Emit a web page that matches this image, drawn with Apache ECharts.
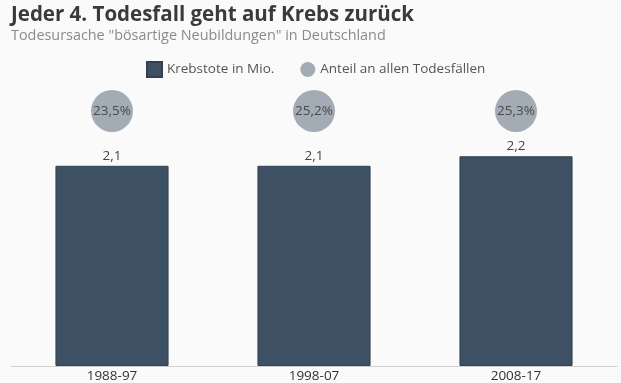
<!DOCTYPE html>
<html><head><meta charset="utf-8">
<script src="https://cdn.jsdelivr.net/npm/echarts@6/dist/echarts.min.js"></script>
<style>html,body{margin:0;padding:0;background:#fafafa}#c{width:621px;height:383px}</style>
</head><body><div id="c"></div>
<script>
const categories = ['1988-97', '1998-07', '2008-17'];
const krebstote = [2.1, 2.1, 2.2];
const anteil = [23.5, 25.2, 25.3];
const fmt = v => String(v).replace('.', ',');

const chart = echarts.init(document.getElementById('c'), null, {renderer: 'canvas'});
chart.setOption({
  backgroundColor: '#fafafa',
  animation: false,
  textStyle: {fontFamily: 'Open Sans'},
  title: {
    text: 'Jeder 4. Todesfall geht auf Krebs zurück',
    subtext: 'Todesursache "bösartige Neubildungen" in Deutschland',
    left: 6, top: 0, itemGap: 3,
    textStyle: {fontFamily: 'Open Sans', fontWeight: 'bold', fontSize: 20.5, color: '#3a3a3a'},
    subtextStyle: {fontFamily: 'Open Sans', fontSize: 14.4, color: '#8a8a8a'}
  },
  legend: {
    top: 56, left: 141, itemWidth: 15, itemHeight: 15, itemGap: 26,
    textStyle: {fontFamily: 'Open Sans', fontSize: 13.5, color: '#555'},
    data: [{name: 'Krebstote in Mio.', icon: 'rect'}, {name: 'Anteil an allen Todesfällen', icon: 'circle'}]
  },
  grid: {left: 11, right: 4, top: 80, bottom: 16, containLabel: false},
  xAxis: {
    type: 'category', data: categories,
    axisLine: {lineStyle: {color: '#cfcfcf'}},
    axisTick: {show: false},
    axisLabel: {fontFamily: 'Open Sans', fontSize: 13.5, color: '#333', margin: 3}
  },
  yAxis: {type: 'value', min: 0, max: 3, show: false, splitLine: {show: false}},
  singleAxis: {
    type: 'category', data: categories, left: 11, right: 4, top: 90, height: 42,
    axisLine: {show: false}, axisTick: {show: false}, axisLabel: {show: false}, splitLine: {show: false}
  },
  series: [
    {
      name: 'Krebstote in Mio.', type: 'bar', data: krebstote, barWidth: '56%',
      itemStyle: {color: '#3e5063', borderColor: '#33414f', borderWidth: 1},
      label: {show: true, position: 'top', distance: 3, fontFamily: 'Open Sans', fontSize: 13.5, color: '#444', formatter: p => fmt(p.value)}
    },
    {
      name: 'Anteil an allen Todesfällen', type: 'scatter', coordinateSystem: 'singleAxis',
      data: anteil.map((v, i) => [i, v]), symbolSize: 42,
      itemStyle: {color: '#a3abb4', opacity: 1},
      label: {show: true, position: 'inside', fontFamily: 'Open Sans', fontSize: 13.5, color: '#4a4a4a', formatter: p => fmt(p.value[1]) + '%'}
    }
  ]
});
</script></body></html>
